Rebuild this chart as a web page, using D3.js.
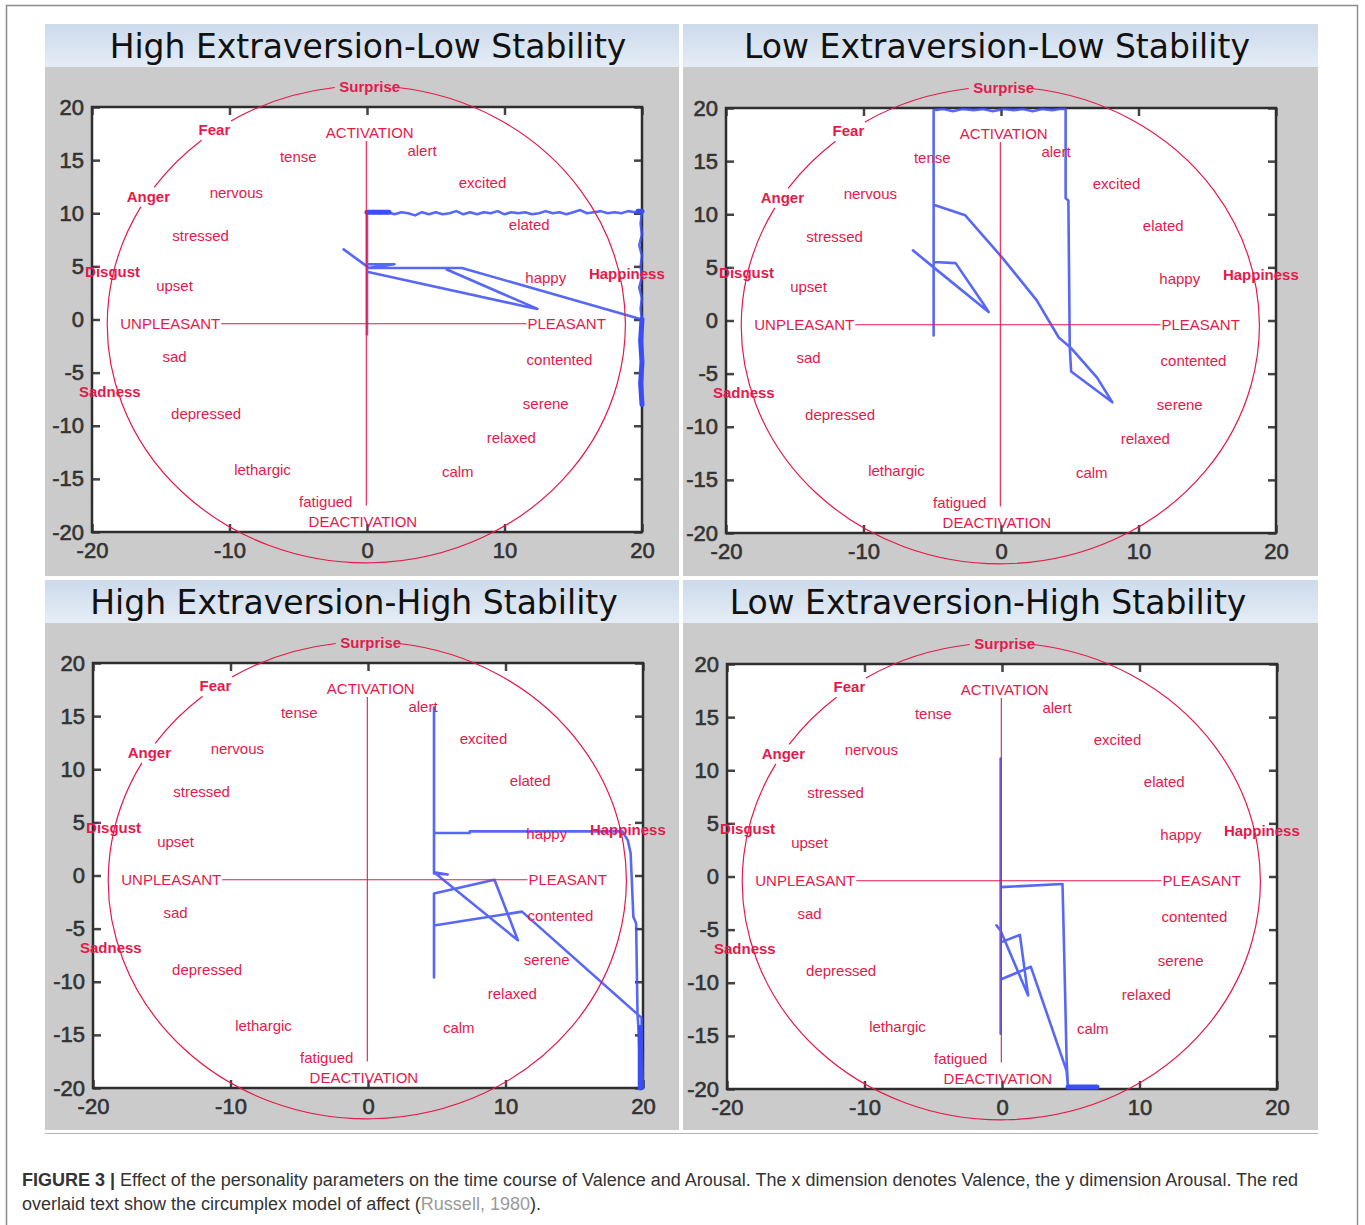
<!DOCTYPE html>
<html>
<head>
<meta charset="utf-8">
<script src="https://cdn.jsdelivr.net/npm/d3@7"></script>
<style>
body { margin: 0; background: #fff; }
svg text { font-family: "Liberation Sans", Arial, sans-serif; }
</style>
</head>
<body>
<svg id="fig" width="1365" height="1225"></svg>
<script>
// titles of the four panels
var panelTitles = [
    "High Extraversion-Low Stability",
    "Low Extraversion-Low Stability",
    "High Extraversion-High Stability",
    "Low Extraversion-High Stability"
];

var xTicks = [-20, -10, 0, 10, 20];
var yTicks = [-20, -15, -10, -5, 0, 5, 10, 15, 20];

// trajectories, [valence, arousal]
var trajHELS = [
    [[-1.7, 6.6], [0, 5.0]],
    [[0, -1.4], [0, 10.1], [0.5, 10.2], [1, 10.0], [1.5, 10.1], [2, 9.9], [2.5, 10.1], [3, 10.0], [3.5, 9.8],
     [4, 10.1], [4.5, 9.9], [5, 10.1], [5.5, 9.9], [6, 10.0], [6.5, 10.2], [7, 9.9], [7.5, 10.1], [8, 9.9],
     [8.5, 10.1], [9, 10.0], [9.5, 10.2], [10, 9.9], [10.5, 10.1], [11, 10.0], [11.5, 10.1], [12, 9.9],
     [12.5, 10.0], [13, 10.2], [13.5, 10.0], [14, 10.1], [14.5, 9.9], [15, 10.1], [15.5, 10.3], [16, 10.0],
     [16.5, 10.1], [17, 10.2], [17.5, 10.0], [18, 10.1], [18.5, 10.0], [19, 10.2], [19.5, 10.1], [20, 10.2],
     [19.9, 9], [20, 8], [19.8, 7], [20, 6], [19.9, 5], [20, 4], [19.8, 3], [20, 2], [19.9, 1], [20, 0],
     [6.9, 4.85], [0, 4.85], [2.0, 5.2], [0, 5.2], [0, 4.5], [11.6, 1.2], [12.4, 1.0], [5.8, 4.7]]
];
var denseHELS = [
    [[20, 0], [19.9, -2], [20, -4], [19.9, -6], [20, -8]],
    [[0, 10.1], [1.6, 10.1]],
    [[19.7, 10.2], [20, 10.2]]
];

var trajLELS = [
    [[-6.4, 6.6], [-4.9, 5.0], [-0.9, 0.8], [-1.3, 1.6], [-3.3, 5.4], [-4.9, 5.5], [-4.9, -1.4], [-4.9, 19.8],
     [-4.2, 19.9], [-3.5, 19.7], [-2.8, 19.9], [-2.0, 19.8], [-1.3, 19.9], [-0.6, 19.7], [0.2, 19.9],
     [0.9, 19.8], [1.6, 19.9], [2.3, 19.7], [3.0, 19.9], [3.7, 19.8], [4.3, 19.9], [4.7, 19.9],
     [4.7, 11.5], [4.9, 11.3], [5.0, -2.5], [5.1, -4.8], [8.1, -7.7], [7.0, -5.4], [5.1, -2.6], [4.2, -1.6],
     [2.6, 1.9], [0.1, 5.9], [-2.6, 9.9], [-4.9, 10.9]]
];
var denseLELS = [];

var trajHEHS = [
    [[20, -20], [19.9, -16], [19.9, -13.4], [11.2, -3.4], [4.8, -4.7], [4.8, -9.6], [4.8, -1.7], [9.2, -0.4],
     [10.9, -6.1], [4.8, 0.3], [5.8, 0.1], [4.8, 0.2], [4.8, 15.8], [4.8, 4.0], [7.4, 4.0], [7.4, 4.15],
     [18.5, 4.15], [18.9, 3.3], [19.1, 2.1], [19.3, -3.9], [19.5, -4.5], [19.6, -13], [19.7, -15], [19.8, -20]]
];
var denseHEHS = [
    [[19.8, -14.3], [19.8, -20]]
];

var trajLEHS = [
    [[-0.1, 11.1], [-0.1, -14.8], [-0.1, -1.0], [4.4, -0.7], [4.5, -6.0], [4.7, -17.3], [4.8, -19.9],
     [4.7, -18.3], [2.1, -8.5], [-0.1, -9.7], [-0.1, -6.2], [1.3, -5.5], [1.9, -11.2], [-0.1, -5.1], [-0.4, -4.6]]
];
var denseLEHS = [
    [[4.8, -19.8], [6.9, -19.8]]
];

// circumplex overlay (Russell): [label, valence, arousal, bold]
var affectLabels = [
    ["Surprise", 0.2, 21.9, 1], ["Fear", -11.1, 17.9, 1], ["ACTIVATION", 0.2, 17.6, 0],
    ["alert", 4.0, 15.9, 0], ["tense", -5.0, 15.3, 0], ["excited", 8.4, 12.9, 0],
    ["Anger", -15.9, 11.6, 1], ["nervous", -9.5, 11.9, 0], ["stressed", -12.1, 7.9, 0],
    ["elated", 11.8, 8.9, 0], ["happy", 13.0, 3.9, 0], ["Happiness", 18.9, 4.3, 1],
    ["Disgust", -18.5, 4.5, 1], ["upset", -14.0, 3.2, 0], ["sad", -14.0, -3.5, 0],
    ["contented", 14.0, -3.8, 0], ["Sadness", -18.7, -6.8, 1], ["serene", 13.0, -7.9, 0],
    ["depressed", -11.7, -8.9, 0], ["relaxed", 10.5, -11.1, 0], ["lethargic", -7.6, -14.1, 0],
    ["calm", 6.6, -14.3, 0], ["fatigued", -3.0, -17.1, 0], ["DEACTIVATION", -0.3, -19.0, 0]
];
var valenceAxis = [[-10.6, -0.4], [11.6, -0.4]];
var arousalAxis = [[-0.05, 16.8], [-0.05, -17.5]];
// ellipse centre / radii in data units and the drawn arcs (degrees)
var ringCentre = [-0.05, -0.45];
var ringRadii = [18.84, 22.45];
var ringArcs = [[97, 121.5], [129.5, 145], [150.5, 443]];

var trajectories = [trajHELS, trajLELS, trajHEHS, trajLEHS];
var denseParts = [denseHELS, denseLELS, denseHEHS, denseLEHS];

var red = "#e5194c";
var blue = "#3b4ef5";

var layout = [
    {left: 45, top: 24, width: 634, height: 552, plotLeft: 92, plotTop: 107, titleX: 368},
    {left: 683, top: 24, width: 635, height: 552, plotLeft: 726, plotTop: 108, titleX: 997},
    {left: 45, top: 580, width: 634, height: 550, plotLeft: 93, plotTop: 663, titleX: 354},
    {left: 683, top: 580, width: 635, height: 550, plotLeft: 727, plotTop: 664, titleX: 988}
];
var PW = 550, PH = 425, HDR = 43;

var svg = d3.select("#fig");
var grad = svg.append("defs").append("linearGradient")
    .attr("id", "hdr").attr("x1", 0).attr("y1", 0).attr("x2", 0).attr("y2", 1);
grad.append("stop").attr("offset", "0%").attr("stop-color", "#ccdaeb");
grad.append("stop").attr("offset", "100%").attr("stop-color", "#e5edf6");

// figure frame
svg.append("rect")
    .attr("x", 6.5).attr("y", 5.5).attr("width", 1351).attr("height", 1250)
    .attr("fill", "none").attr("stroke", "#8c8c8c").attr("stroke-width", 1.5);

// plain hyphen minus like the matlab output
var tickText = function (d) { return String(d); };

var drawPanel = function (i) {
    var L = layout[i];
    var g = svg.append("g");

    g.append("rect").attr("x", L.left).attr("y", L.top)
        .attr("width", L.width).attr("height", HDR).attr("fill", "url(#hdr)");
    g.append("rect").attr("x", L.left).attr("y", L.top + HDR)
        .attr("width", L.width).attr("height", L.height - HDR).attr("fill", "#cbcbcb");
    g.append("text")
        .attr("x", L.titleX).attr("y", L.top + 34)
        .attr("text-anchor", "middle")
        .style("font-family", "'DejaVu Sans', Verdana, sans-serif")
        .style("font-size", "33px").attr("fill", "#111")
        .text(panelTitles[i]);

    var x = d3.scaleLinear().domain([-20, 20]).range([L.plotLeft, L.plotLeft + PW]);
    var y = d3.scaleLinear().domain([-20, 20]).range([L.plotTop + PH, L.plotTop]);

    g.append("rect").attr("x", x(-20)).attr("y", y(20))
        .attr("width", PW).attr("height", PH).attr("fill", "#fff");

    //axes, matlab style ticks pointing inwards
    var axes = [
        d3.axisBottom(x).tickValues(xTicks).tickFormat(tickText).tickSizeInner(-8).tickSizeOuter(0).tickPadding(10),
        d3.axisTop(x).tickValues(xTicks).tickSizeInner(-8).tickSizeOuter(0).tickFormat(""),
        d3.axisLeft(y).tickValues(yTicks).tickFormat(tickText).tickSizeInner(-8).tickSizeOuter(0).tickPadding(8),
        d3.axisRight(y).tickValues(yTicks).tickSizeInner(-8).tickSizeOuter(0).tickFormat("")
    ];
    var shift = ["translate(0," + y(-20) + ")", "translate(0," + y(20) + ")",
        "translate(" + x(-20) + ",0)", "translate(" + x(20) + ",0)"];
    axes.forEach(function (ax, k) {
        var a = g.append("g").attr("transform", shift[k]).call(ax);
        a.select(".domain").remove();
        a.selectAll("line").attr("stroke", "#444").attr("stroke-width", 2.5);
        a.selectAll("text")
            .style("font-size", "22px").attr("fill", "#333")
            .attr("stroke", "#333").attr("stroke-width", 0.6)
            .style("font-family", "'Liberation Sans', Arial, sans-serif");
    });

    g.append("rect").attr("x", x(-20)).attr("y", y(20))
        .attr("width", PW).attr("height", PH)
        .attr("fill", "none").attr("stroke", "#2e2e2e").attr("stroke-width", 2.5);

    var line = d3.line().x(function (d) { return x(d[0]); }).y(function (d) { return y(d[1]); });

    g.selectAll(".traj").data(trajectories[i]).enter().append("path")
        .attr("class", "traj")
        .attr("d", line)
        .attr("fill", "none").attr("stroke", blue).attr("stroke-opacity", 0.85)
        .attr("stroke-width", 2.6).attr("stroke-linejoin", "round").attr("stroke-linecap", "round");
    g.selectAll(".dense").data(denseParts[i]).enter().append("path")
        .attr("class", "dense")
        .attr("d", line)
        .attr("fill", "none").attr("stroke", blue)
        .attr("stroke-width", 5).attr("stroke-linecap", "round");

    // red circumplex overlay
    var ov = g.append("g");
    var rx = x(ringRadii[0]) - x(0), ry = y(0) - y(ringRadii[1]);
    var pt = function (a) {
        var r = a * Math.PI / 180;
        return [x(ringCentre[0] + ringRadii[0] * Math.cos(r)), y(ringCentre[1] + ringRadii[1] * Math.sin(r))];
    };
    ringArcs.forEach(function (arc) {
        var p0 = pt(arc[0]), p1 = pt(arc[1]);
        var large = (arc[1] - arc[0]) > 180 ? 1 : 0;
        ov.append("path")
            .attr("d", "M" + p0[0] + "," + p0[1] + " A" + rx + "," + ry + " 0 " + large + " 0 " + p1[0] + "," + p1[1])
            .attr("fill", "none").attr("stroke", red).attr("stroke-width", 1.2);
    });
    [valenceAxis, arousalAxis].forEach(function (seg) {
        ov.append("path").attr("d", line(seg))
            .attr("stroke", red).attr("stroke-width", 1.1).attr("fill", "none");
    });

    ov.selectAll(".aff").data(affectLabels).enter().append("text")
        .attr("class", "aff")
        .attr("x", function (d) { return x(d[1]); })
        .attr("y", function (d) { return y(d[2]); })
        .attr("dy", "0.36em")
        .attr("text-anchor", "middle")
        .style("font-size", "15px")
        .style("font-weight", function (d) { return d[3] ? "bold" : "normal"; })
        .attr("fill", red)
        .text(function (d) { return d[0]; });

    ov.append("text")
        .attr("x", x(valenceAxis[0][0]) - 1).attr("y", y(valenceAxis[0][1])).attr("dy", "0.36em")
        .attr("text-anchor", "end").style("font-size", "15px").attr("fill", red).text("UNPLEASANT");
    ov.append("text")
        .attr("x", x(valenceAxis[1][0]) + 1).attr("y", y(valenceAxis[1][1])).attr("dy", "0.36em")
        .attr("text-anchor", "start").style("font-size", "15px").attr("fill", red).text("PLEASANT");
};

d3.range(4).forEach(drawPanel);

svg.append("line").attr("x1", 45).attr("x2", 1318).attr("y1", 1133.5).attr("y2", 1133.5)
    .attr("stroke", "#b5b5b5").attr("stroke-width", 1.2);

// caption
var cap = svg.append("g").style("font-size", "18px").attr("fill", "#333");
var l1 = cap.append("text").attr("x", 22).attr("y", 1186);
l1.append("tspan").style("font-weight", "bold").text("FIGURE 3 |");
l1.append("tspan").text(" Effect of the personality parameters on the time course of Valence and Arousal. The x dimension denotes Valence, the y dimension Arousal. The red");
var l2 = cap.append("text").attr("x", 22).attr("y", 1210);
l2.append("tspan").text("overlaid text show the circumplex model of affect (");
l2.append("tspan").attr("fill", "#9a9a9a").text("Russell, 1980");
l2.append("tspan").text(").");
</script>
</body>
</html>
